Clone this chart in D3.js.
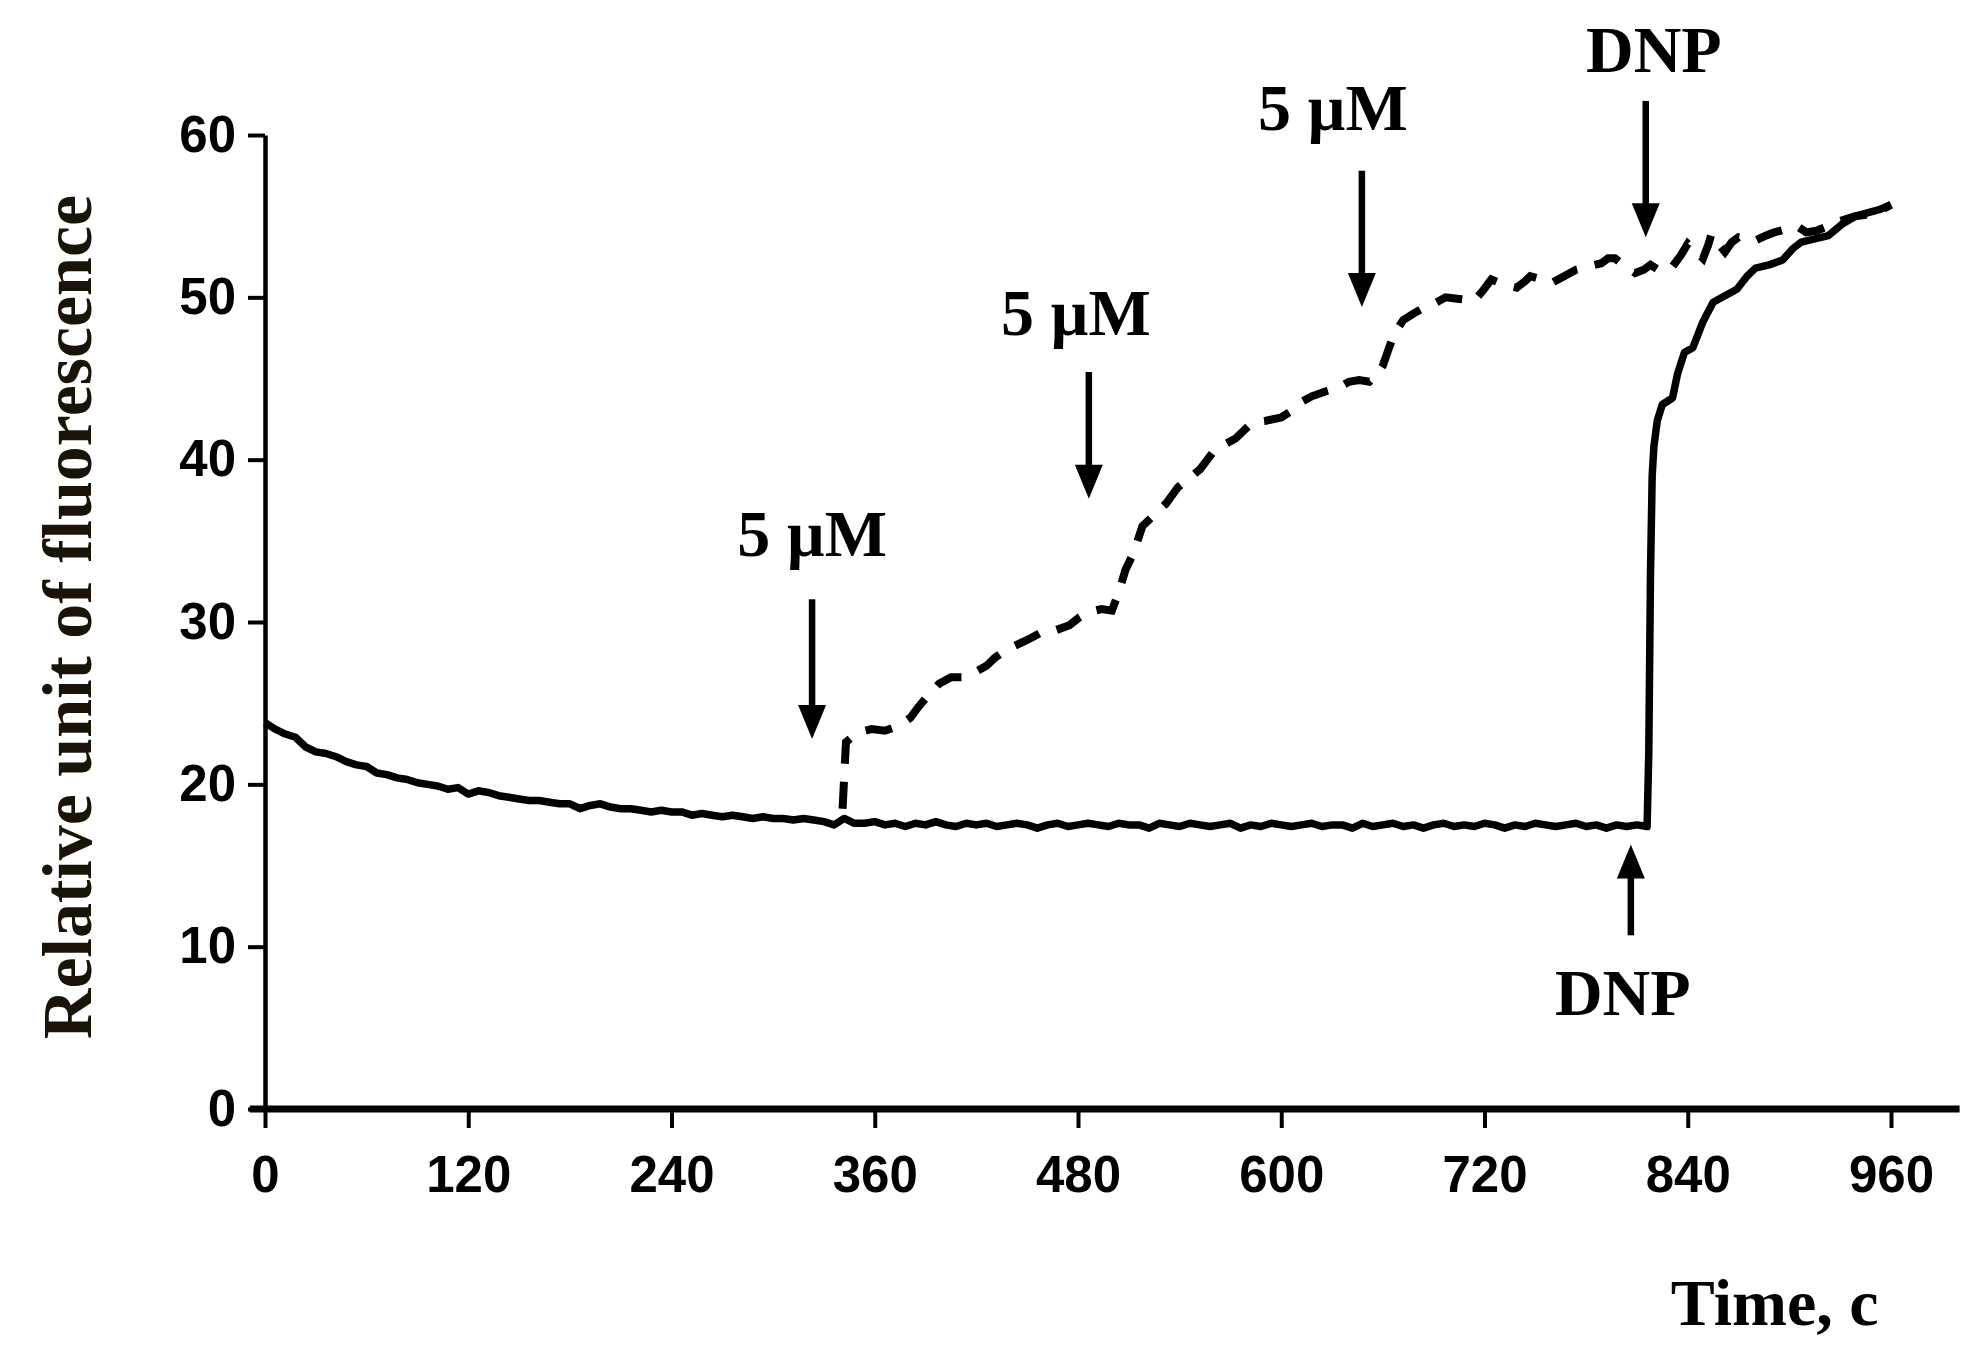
<!DOCTYPE html>
<html>
<head>
<meta charset="utf-8">
<script src="https://cdn.jsdelivr.net/npm/d3@7"></script>
<style>
  body { margin: 0; background: #fff; }
  svg { display: block; }
</style>
</head>
<body>
<svg id="chart" width="1981" height="1356"></svg>
<script>
// ticks
var xTicks = [0, 120, 240, 360, 480, 600, 720, 840, 960];
var yTicks = [0, 10, 20, 30, 40, 50, 60];

// solid trace, before DNP: one value every 6 s from 0 to 816 s
var baseStep = 6;
var baseValues = [
  23.8, 23.4, 23.1, 22.9, 22.3, 22.0, 21.9, 21.7, 21.4, 21.2,
  21.1, 20.7, 20.6, 20.4, 20.3, 20.1, 20.0, 19.9, 19.7, 19.8,
  19.4, 19.6, 19.5, 19.3, 19.2, 19.1, 19.0, 19.0, 18.9, 18.8,
  18.8, 18.5, 18.7, 18.8, 18.6, 18.5, 18.5, 18.4, 18.3, 18.4,
  18.3, 18.3, 18.1, 18.2, 18.1, 18.0, 18.1, 18.0, 17.9, 18.0,
  17.9, 17.9, 17.8, 17.9, 17.8, 17.7, 17.5, 17.9, 17.6, 17.6,
  17.7, 17.5, 17.6, 17.4, 17.6, 17.5, 17.7, 17.5, 17.4, 17.6,
  17.5, 17.6, 17.4, 17.5, 17.6, 17.5, 17.3, 17.5, 17.6, 17.4,
  17.5, 17.6, 17.5, 17.4, 17.6, 17.5, 17.5, 17.3, 17.6, 17.5,
  17.4, 17.6, 17.5, 17.4, 17.5, 17.6, 17.3, 17.5, 17.4, 17.6,
  17.5, 17.4, 17.5, 17.6, 17.4, 17.5, 17.5, 17.3, 17.6, 17.4,
  17.5, 17.6, 17.4, 17.5, 17.3, 17.5, 17.6, 17.4, 17.5, 17.4,
  17.6, 17.5, 17.3, 17.5, 17.4, 17.6, 17.5, 17.4, 17.5, 17.6,
  17.4, 17.5, 17.3, 17.5, 17.4, 17.5, 17.4
];

// solid trace after DNP
var riseTime = [817, 818, 819, 820, 822, 825, 828, 831, 834, 838, 843, 849, 855, 862,
  869, 875, 880, 888, 896, 902, 907, 915, 923, 931, 939, 946, 953, 960];
var riseValues = [22.0, 33.0, 39.0, 40.8, 42.4, 43.4, 43.6, 43.8, 45.3, 46.6, 46.9, 48.5, 49.7, 50.1,
  50.5, 51.3, 51.8, 52.0, 52.3, 53.0, 53.4, 53.6, 53.8, 54.5, 55.0, 55.2, 55.4, 55.7];

// dashed trace (5 µM additions)
var dashTime = [341, 343, 350, 358, 366, 374, 381, 386, 391, 398, 405, 412, 419, 426, 431,
  438, 446, 452, 459, 467, 475, 481, 486, 494, 500, 504, 508, 513, 518, 525, 532, 539,
  545, 552, 560, 566, 573, 583, 591, 600, 606, 611, 618, 626, 633, 640, 646, 652, 657,
  660, 664, 667, 672, 678, 684, 690, 697, 705, 714, 719, 724, 731, 739, 744, 747, 754,
  760, 767, 774, 781, 789, 793, 797, 803, 809, 814, 818, 824, 831, 836, 840, 845, 849,
  852, 854, 858, 862, 866, 870, 875, 880, 886, 891, 898, 905, 910, 916, 923, 930, 939,
  946, 953, 960];
var dashValues = [18.5, 22.6, 23.2, 23.4, 23.3, 23.6, 24.1, 24.8, 25.4, 26.2, 26.6, 26.6,
  26.9, 27.3, 27.8, 28.3, 28.7, 29.0, 29.4, 29.5, 29.8, 30.3, 30.6, 30.8, 30.7, 31.8,
  33.2, 34.3, 35.9, 36.6, 37.3, 38.3, 38.8, 39.4, 40.5, 40.9, 41.3, 42.3, 42.4, 42.6,
  43.0, 43.5, 43.9, 44.2, 44.4, 44.8, 44.9, 44.8, 45.3, 45.8, 47.0, 47.8, 48.6, 49.0,
  49.35, 49.6, 50.0, 49.9, 49.8, 50.4, 51.1, 50.8, 50.6, 51.0, 51.3, 51.1, 50.9, 51.3,
  51.7, 51.9, 52.1, 52.4, 52.4, 51.9, 51.5, 51.7, 52.0, 51.6, 51.9, 52.6, 53.3, 52.8,
  52.4, 53.2, 53.9, 53.3, 52.8, 53.4, 53.7, 53.6, 53.5, 53.8, 54.0, 54.2, 54.35, 54.0,
  54.1, 54.4, 54.7, 55.0, 55.1, 55.3, 55.7];

// annotations: arrows (time, from value, to value) and labels
var arrowTime = [323, 486.4, 647.6, 815.2, 806.4];
var arrowFrom = [31.4, 45.4, 57.8, 62.1, 10.7];
var arrowTo = [22.8, 37.6, 49.4, 53.7, 16.3];
var noteText = ['5 \u00b5M', '5 \u00b5M', '5 \u00b5M', 'DNP', 'DNP'];
var noteTime = [323, 478.7, 630.5, 820, 801.6];
var noteValue = [34.07, 47.7, 60.3, 63.9, 5.8];

var svg = d3.select('#chart');

var x = d3.scaleLinear().domain([0, 960]).range([265, 1891]);
var y = d3.scaleLinear().domain([0, 60]).range([1109, 135]);

var sans = "'Liberation Sans', Arial, sans-serif";
var serif = "'Liberation Serif', 'Times New Roman', serif";

// y axis
var yAxis = svg.append('g')
  .attr('transform', 'translate(' + x(0) + ',0)')
  .call(d3.axisLeft(y).tickValues(yTicks).tickSize(17).tickSizeOuter(0).tickPadding(12));
yAxis.select('.domain').attr('stroke-width', 4.5).attr('stroke', '#000');
yAxis.selectAll('.tick line').attr('stroke-width', 4).attr('stroke', '#000');
yAxis.selectAll('.tick text')
  .attr('font-family', sans).attr('font-weight', 'bold').attr('font-size', 51).attr('fill', '#000');

// x axis
var xAxis = svg.append('g')
  .attr('transform', 'translate(0,' + y(0) + ')')
  .call(d3.axisBottom(x).tickValues(xTicks).tickSize(19).tickSizeOuter(0).tickPadding(28));
xAxis.select('.domain').remove();
xAxis.append('line')
  .attr('x1', x(-9)).attr('x2', x(1000.5))
  .attr('stroke', '#000').attr('stroke-width', 7);
xAxis.selectAll('.tick line').attr('stroke-width', 4).attr('stroke', '#000');
xAxis.selectAll('.tick text')
  .attr('font-family', sans).attr('font-weight', 'bold').attr('font-size', 51).attr('fill', '#000');

// traces
var line = d3.line()
  .x(function(d){ return x(d[0]) })
  .y(function(d){ return y(d[1]) });

var solid = baseValues.map(function(v, i){ return [i * baseStep, v] })
  .concat(riseTime.map(function(t, i){ return [t, riseValues[i]] }));
var dashed = dashTime.map(function(t, i){ return [t, dashValues[i]] });

svg.append('path')
  .datum(solid)
  .attr('d', line)
  .attr('fill', 'none')
  .attr('stroke', '#000')
  .attr('stroke-width', 7.5)
  .attr('stroke-linejoin', 'round');

svg.append('path')
  .datum(dashed)
  .attr('d', line)
  .attr('fill', 'none')
  .attr('stroke', '#000')
  .attr('stroke-width', 8)
  .attr('stroke-dasharray', '27,18');

// arrows
var headLen = 34, headHalf = 14;
var arrows = svg.append('g').selectAll('g')
  .data(arrowTime.map(function(t, i){ return { t: t, from: arrowFrom[i], to: arrowTo[i] } }))
  .enter().append('g');

arrows.append('line')
  .attr('x1', function(d){ return x(d.t) })
  .attr('x2', function(d){ return x(d.t) })
  .attr('y1', function(d){ return y(d.from) })
  .attr('y2', function(d){
    var dir = d.to < d.from ? 1 : -1;
    return y(d.to) - dir * (headLen - 2);
  })
  .attr('stroke', '#000')
  .attr('stroke-width', 6.5);

arrows.append('path')
  .attr('d', function(d){
    var dir = d.to < d.from ? 1 : -1;
    var tx = x(d.t), ty = y(d.to);
    return 'M' + tx + ',' + ty +
      'L' + (tx - headHalf) + ',' + (ty - dir * headLen) +
      'L' + (tx + headHalf) + ',' + (ty - dir * headLen) + 'Z';
  })
  .attr('fill', '#000');

// labels
svg.append('g').selectAll('text')
  .data(noteText.map(function(s, i){ return { s: s, t: noteTime[i], v: noteValue[i] } }))
  .enter().append('text')
  .attr('x', function(d){ return x(d.t) })
  .attr('y', function(d){ return y(d.v) })
  .attr('text-anchor', 'middle')
  .attr('font-family', serif)
  .attr('font-weight', 'bold')
  .attr('font-size', 66)
  .attr('fill', '#000')
  .text(function(d){ return d.s });

// axis titles
svg.append('text')
  .attr('x', x(830))
  .attr('y', 1325)
  .attr('font-family', serif)
  .attr('font-weight', 'bold')
  .attr('font-size', 66)
  .attr('fill', '#000')
  .text('Time, c');

svg.append('text')
  .attr('transform', 'translate(91,' + 617 + ') rotate(-90)')
  .attr('text-anchor', 'middle')
  .attr('font-family', serif)
  .attr('font-weight', 'bold')
  .attr('font-size', 70)
  .attr('fill', '#1a1408')
  .text('Relative unit of fluorescence');
</script>
</body>
</html>
